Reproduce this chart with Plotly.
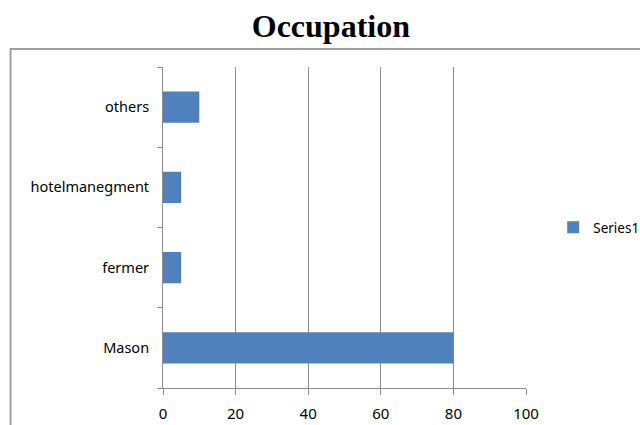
import plotly.graph_objects as go

categories = ["Mason", "fermer", "hotelmanegment", "others"]
values = [80, 5, 5, 10]
x_ticks = [0, 20, 40, 60, 80, 100]

fig = go.Figure()

fig.add_trace(go.Bar(
    x=values,
    y=categories,
    orientation='h',
    name='Series1',
    marker=dict(color='#4F81BD', line=dict(width=0)),
    showlegend=True
))

# chart border (Excel chart area)
fig.add_shape(
    type='rect', xref='paper', yref='paper',
    x0=-0.42, x1=1.4, y0=-0.2, y1=1.056,
    line=dict(color='#a0a0a0', width=2),
    layer='below'
)

fig.update_layout(
    width=640,
    height=425,
    plot_bgcolor='white',
    paper_bgcolor='white',
    bargap=0.61,
    title=dict(
        text='<b>Occupation</b>',
        font=dict(family='Liberation Serif', size=32, color='black'),
        x=0.517, xanchor='center',
        y=0.94, yanchor='middle'
    ),
    xaxis=dict(
        range=[0, 100],
        tickvals=x_ticks,
        showgrid=True,
        gridcolor='#8c8c8c',
        gridwidth=1,
        showline=True,
        linecolor='#8c8c8c',
        ticks='outside',
        ticklen=6,
        tickcolor='#8c8c8c',
        zeroline=False,
        ticklabelstandoff=6,
        tickfont=dict(family='Noto Sans', size=15, color='black'),
        fixedrange=True
    ),
    yaxis=dict(
        categoryorder='array',
        categoryarray=categories,
        showgrid=False,
        showline=True,
        linecolor='#8c8c8c',
        ticks='outside',
        tickson='boundaries',
        ticklen=5,
        tickcolor='#8c8c8c',
        ticklabelstandoff=10,
        tickfont=dict(family='Noto Sans', size=14.5, color='black')
    ),
    legend=dict(
        x=1.075, xanchor='left',
        y=0.5, yanchor='middle',
        font=dict(family='Noto Sans', size=13.5, color='black'),
        itemwidth=30
    ),
    margin=dict(l=163, r=114, t=67, b=37, autoexpand=False)
)

fig.write_html(
    "out.html",
    config={'displayModeBar': False},
    post_script="document.body.style.margin='0';"
)
